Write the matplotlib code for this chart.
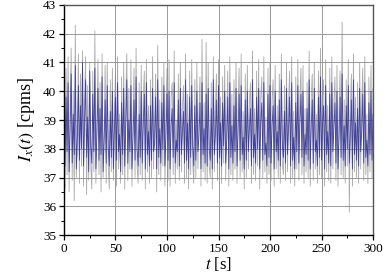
import numpy as np
import matplotlib.pyplot as plt

plt.rcParams['font.family'] = ['Liberation Serif', 'DejaVu Serif']
plt.rcParams['mathtext.fontset'] = 'stix'

# counts per time step (1 s sampling)
blue_counts = [
    38.6, 37.4, 39.8, 37.9, 40.3, 37.2, 38.8, 40.6, 37.5, 39.2, 37.8, 40.9, 37.3, 38.4, 40.2, 37.6, 39.5, 38.0, 41.0, 37.4,
    38.9, 40.4, 37.7, 39.1, 37.2, 40.7, 38.1, 37.5, 39.9, 37.9, 40.8, 37.3, 38.6, 40.1, 37.6, 39.4, 37.8, 40.5, 37.2, 38.3,
    39.7, 37.5, 40.2, 38.0, 37.4, 39.3, 37.7, 40.0, 37.3, 38.7, 39.8, 37.6, 40.3, 37.9, 38.5, 37.2, 39.6, 37.8, 40.1, 37.4,
    38.8, 40.4, 37.5, 39.0, 37.9, 40.2, 37.3, 38.4, 39.7, 37.6, 40.5, 38.0, 37.4, 39.2, 37.7, 40.0, 37.5, 38.9, 39.9, 37.3,
    40.3, 37.8, 38.6, 37.4, 39.5, 37.6, 40.1, 37.9, 38.2, 39.8, 37.3, 40.4, 37.7, 38.7, 37.5, 39.6, 38.0, 40.2, 37.4, 38.5,
    39.9, 37.6, 40.0, 37.3, 38.8, 39.4, 37.7, 40.3, 37.5, 38.3, 37.9, 39.7, 37.4, 40.1, 37.8, 38.6, 39.3, 37.5, 40.4, 37.6,
    38.9, 37.3, 39.8, 37.7, 40.2, 38.1, 37.4, 39.5, 37.6, 40.0, 37.9, 38.4, 39.6, 37.3, 40.3, 37.8, 38.7, 37.5, 39.9, 37.4,
    40.1, 38.0, 37.6, 39.4, 37.3, 40.4, 37.8, 38.5, 39.7, 37.5, 40.2, 37.7, 38.9, 37.4, 39.6, 38.1, 40.0, 37.5, 38.3, 39.8,
    37.3, 40.3, 37.7, 38.8, 37.5, 39.5, 37.9, 40.1, 37.4, 38.6, 39.9, 37.6, 40.2, 37.8, 38.4, 37.3, 39.7, 37.6, 40.0, 37.9,
    38.7, 39.4, 37.4, 40.4, 37.7, 38.5, 37.5, 39.8, 38.0, 40.1, 37.3, 38.9, 39.6, 37.6, 40.3, 37.8, 38.2, 37.4, 39.9, 37.7,
    40.2, 37.5, 38.8, 39.5, 37.3, 40.0, 37.9, 38.6, 37.6, 39.7, 37.4, 40.4, 38.1, 37.7, 39.3, 37.5, 40.1, 37.8, 38.7, 39.8,
    37.4, 40.3, 37.6, 38.4, 37.3, 39.6, 37.9, 40.2, 37.5, 38.9, 39.9, 37.7, 40.0, 37.4, 38.5, 37.8, 39.4, 37.6, 40.4, 37.3,
    38.8, 39.7, 37.5, 40.1, 37.9, 38.3, 37.4, 39.8, 37.7, 40.5, 37.6, 38.9, 39.5, 37.3, 40.2, 37.8, 38.6, 37.5, 39.9, 37.4,
    40.3, 37.9, 38.7, 39.6, 37.5, 40.0, 37.3, 38.4, 39.8, 37.7, 40.6, 37.6, 38.8, 37.4, 39.5, 38.0, 40.2, 37.5, 38.5, 39.7,
    37.3, 40.4, 37.8, 38.9, 37.6, 39.4, 37.4, 40.1, 37.9, 38.6, 39.9, 37.5, 40.3, 37.7, 38.3, 37.4, 39.6, 37.8, 40.0, 37.6,
    39.2,
]

gray_counts = [
    37.8, 36.6, 40.8, 37.1, 41.2, 36.5, 39.4, 41.5, 36.9, 40.0, 36.2, 42.3, 37.0, 38.1, 41.3, 36.8, 40.6, 37.4, 41.4, 36.7,
    39.6, 41.2, 36.4, 40.2, 36.9, 41.0, 37.5, 36.6, 40.7, 37.2, 42.1, 36.8, 39.0, 41.1, 37.1, 40.3, 36.5, 41.3, 37.0, 38.6,
    40.9, 36.8, 41.0, 37.4, 36.6, 40.4, 37.2, 40.8, 36.9, 39.4, 40.6, 36.7, 41.2, 37.3, 39.2, 36.8, 40.5, 37.1, 41.0, 36.6,
    39.6, 41.3, 36.9, 40.1, 37.3, 41.1, 36.7, 39.0, 40.8, 37.0, 41.5, 37.4, 36.8, 40.3, 37.1, 40.9, 36.9, 39.8, 40.7, 36.6,
    41.1, 37.2, 39.5, 36.8, 40.4, 37.0, 41.2, 37.3, 38.9, 40.6, 36.5, 41.6, 37.1, 39.7, 36.9, 40.5, 37.4, 41.0, 36.7, 39.3,
    40.8, 36.9, 41.1, 36.7, 39.8, 40.3, 37.1, 41.4, 36.8, 39.0, 37.3, 40.6, 36.9, 41.0, 37.2, 39.5, 40.2, 36.8, 41.3, 37.0,
    39.9, 36.6, 40.7, 37.1, 41.1, 37.5, 36.8, 40.4, 37.0, 41.0, 37.3, 39.2, 40.5, 36.7, 41.8, 37.2, 39.6, 36.9, 41.7, 36.8,
    41.0, 37.4, 37.0, 40.3, 36.6, 41.2, 37.2, 39.4, 40.6, 36.9, 41.1, 37.1, 39.8, 36.8, 40.5, 37.5, 40.9, 36.9, 39.1, 40.7,
    36.7, 41.2, 37.1, 39.9, 36.9, 40.4, 37.3, 41.0, 36.8, 39.5, 40.8, 37.0, 41.3, 37.2, 39.3, 36.6, 40.6, 37.0, 40.9, 37.3,
    39.6, 40.3, 36.8, 41.4, 37.1, 39.4, 36.9, 40.7, 37.4, 41.1, 36.6, 39.8, 40.5, 37.0, 41.2, 37.2, 39.1, 36.8, 40.8, 37.1,
    41.0, 36.9, 39.7, 40.4, 36.7, 40.9, 37.3, 39.5, 37.0, 40.6, 36.8, 41.3, 37.5, 37.1, 40.2, 36.9, 41.0, 37.2, 39.6, 40.7,
    36.8, 41.2, 37.0, 39.3, 36.7, 40.5, 37.3, 41.1, 36.9, 39.8, 40.8, 37.1, 40.9, 36.8, 39.4, 37.2, 40.3, 37.0, 41.4, 36.7,
    39.7, 40.6, 36.9, 41.0, 37.3, 39.2, 36.8, 40.7, 37.1, 41.5, 37.0, 39.8, 40.4, 36.7, 41.1, 37.2, 39.5, 36.9, 40.8, 36.8,
    41.2, 37.3, 39.6, 40.5, 36.9, 40.9, 36.7, 39.3, 40.7, 37.1, 42.4, 37.0, 39.7, 36.8, 40.4, 37.4, 41.1, 35.8, 39.4, 40.6,
    36.7, 41.3, 37.2, 39.8, 37.0, 40.3, 36.8, 41.0, 37.3, 39.5, 40.8, 36.9, 41.2, 37.1, 39.2, 36.8, 40.5, 37.2, 40.9, 37.0,
    40.1,
]

t = np.arange(len(blue_counts))

fig = plt.figure(figsize=(3.83, 2.74), dpi=100)
ax = fig.add_axes([0.167, 0.142, 0.807, 0.84])

ax.plot(t, gray_counts, color='#8c8c8c', lw=0.6, alpha=0.75)
ax.plot(t, blue_counts, color='#24249a', lw=0.6, alpha=0.8)

ax.set_xlim(0, 300)
ax.set_ylim(35, 43)
ax.set_xticks(np.arange(0, 301, 50))
ax.set_xticks(np.arange(0, 301, 25), minor=True)
ax.set_yticks(np.arange(35, 44, 1))
ax.set_yticks(np.arange(35, 43.01, 0.5), minor=True)
ax.grid(True, which='major', color='#999999', lw=0.7)
ax.set_axisbelow(True)

ax.tick_params(which='both', direction='out', top=False, right=False, labelsize=9.5, pad=2)
ax.tick_params(which='major', length=3.5, width=0.9)
ax.tick_params(which='minor', length=2, width=0.7)
for s in ['left', 'bottom']:
    ax.spines[s].set_linewidth(1.0)
for s in ['top', 'right']:
    ax.spines[s].set_color('#555555')
    ax.spines[s].set_linewidth(1.0)

ax.set_ylabel(r'$I_x(t)$ [cpms]', fontsize=13, labelpad=4)
ax.set_xlabel(r'$t$ [s]', fontsize=12, labelpad=0)

fig.savefig('out.png', dpi=100)
